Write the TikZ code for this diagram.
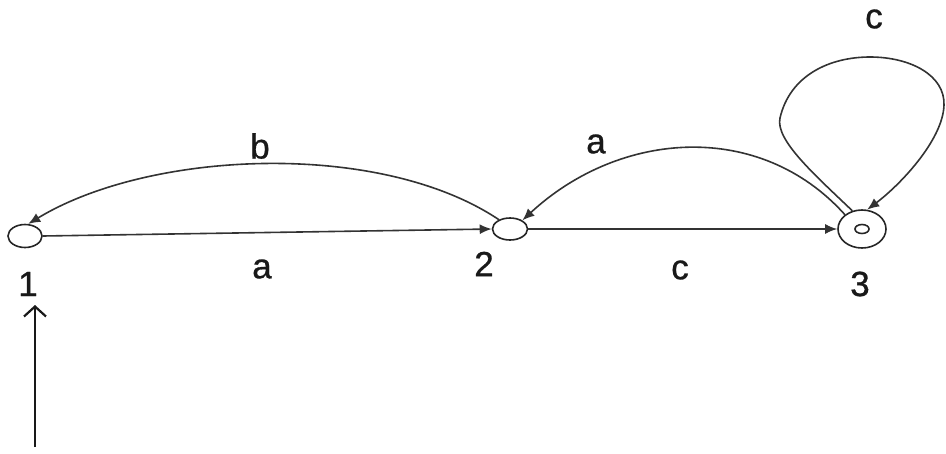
\documentclass[tikz,border=0pt]{standalone}
\usepackage{fontspec}
\setmainfont{Liberation Sans}
\newfontfamily\lblfont[FakeBold=0.8]{Liberation Sans}
\usetikzlibrary{arrows.meta,shapes.geometric}
\begin{document}
\begin{tikzpicture}[x=1pt,y=-1pt,
  state/.style={draw=black!85,ellipse,line width=1.6pt,inner sep=0pt},
  edge/.style={draw=black!80,line width=1.6pt,-{Latex[length=12pt,width=10pt]}},
  lbl/.style={font=\lblfont\fontsize{35}{40}\selectfont,text=black!90,inner sep=0pt}]
\useasboundingbox (0,0) rectangle (946,453);
\node[state,minimum width=34pt,minimum height=23pt] (n1) at (25,236) {};
\node[state,minimum width=35pt,minimum height=22pt] (n2) at (510,229) {};
\node[state,minimum width=48pt,minimum height=38pt] (n3) at (862,229) {};
\node[state,minimum width=14pt,minimum height=9pt] (n3i) at (862,229) {};
\node[lbl] (l1) at (28,284) {1};
\node[lbl] (l2) at (484,264) {2};
\node[lbl] (l3) at (860,284) {3};
\node[lbl] (la1) at (262,269) {a};
\node[lbl] (lc1) at (680,270) {c};
\node[lbl] (lb) at (260,146) {b};
\node[lbl] (la2) at (596,144) {a};
\node[lbl] (lc2) at (874,19) {c};
\coordinate (start) at (35,447);
\draw[edge] (n1.east) -- (n2.west);
\draw[edge] (n2.east) -- (n3.west);
\draw[edge] (n2.140) .. controls (380,140) and (150,150) .. (n1.75);
\draw[edge] (n3.140) .. controls (760,120) and (620,130) .. (n2.35);
\draw[edge] (n3.118) .. controls (815,175) and (775,140) .. (780,118) .. controls (790,75) and (830,57) .. (870,57) .. controls (910,57) and (945,75) .. (944,105) .. controls (943,140) and (900,185) .. (n3.75);
\draw[draw=black!90,line width=1.7pt,-{Straight Barb[length=10pt,width=22pt,line width=2.2pt]}] (start) -- (35,305);
\end{tikzpicture}
\end{document}
